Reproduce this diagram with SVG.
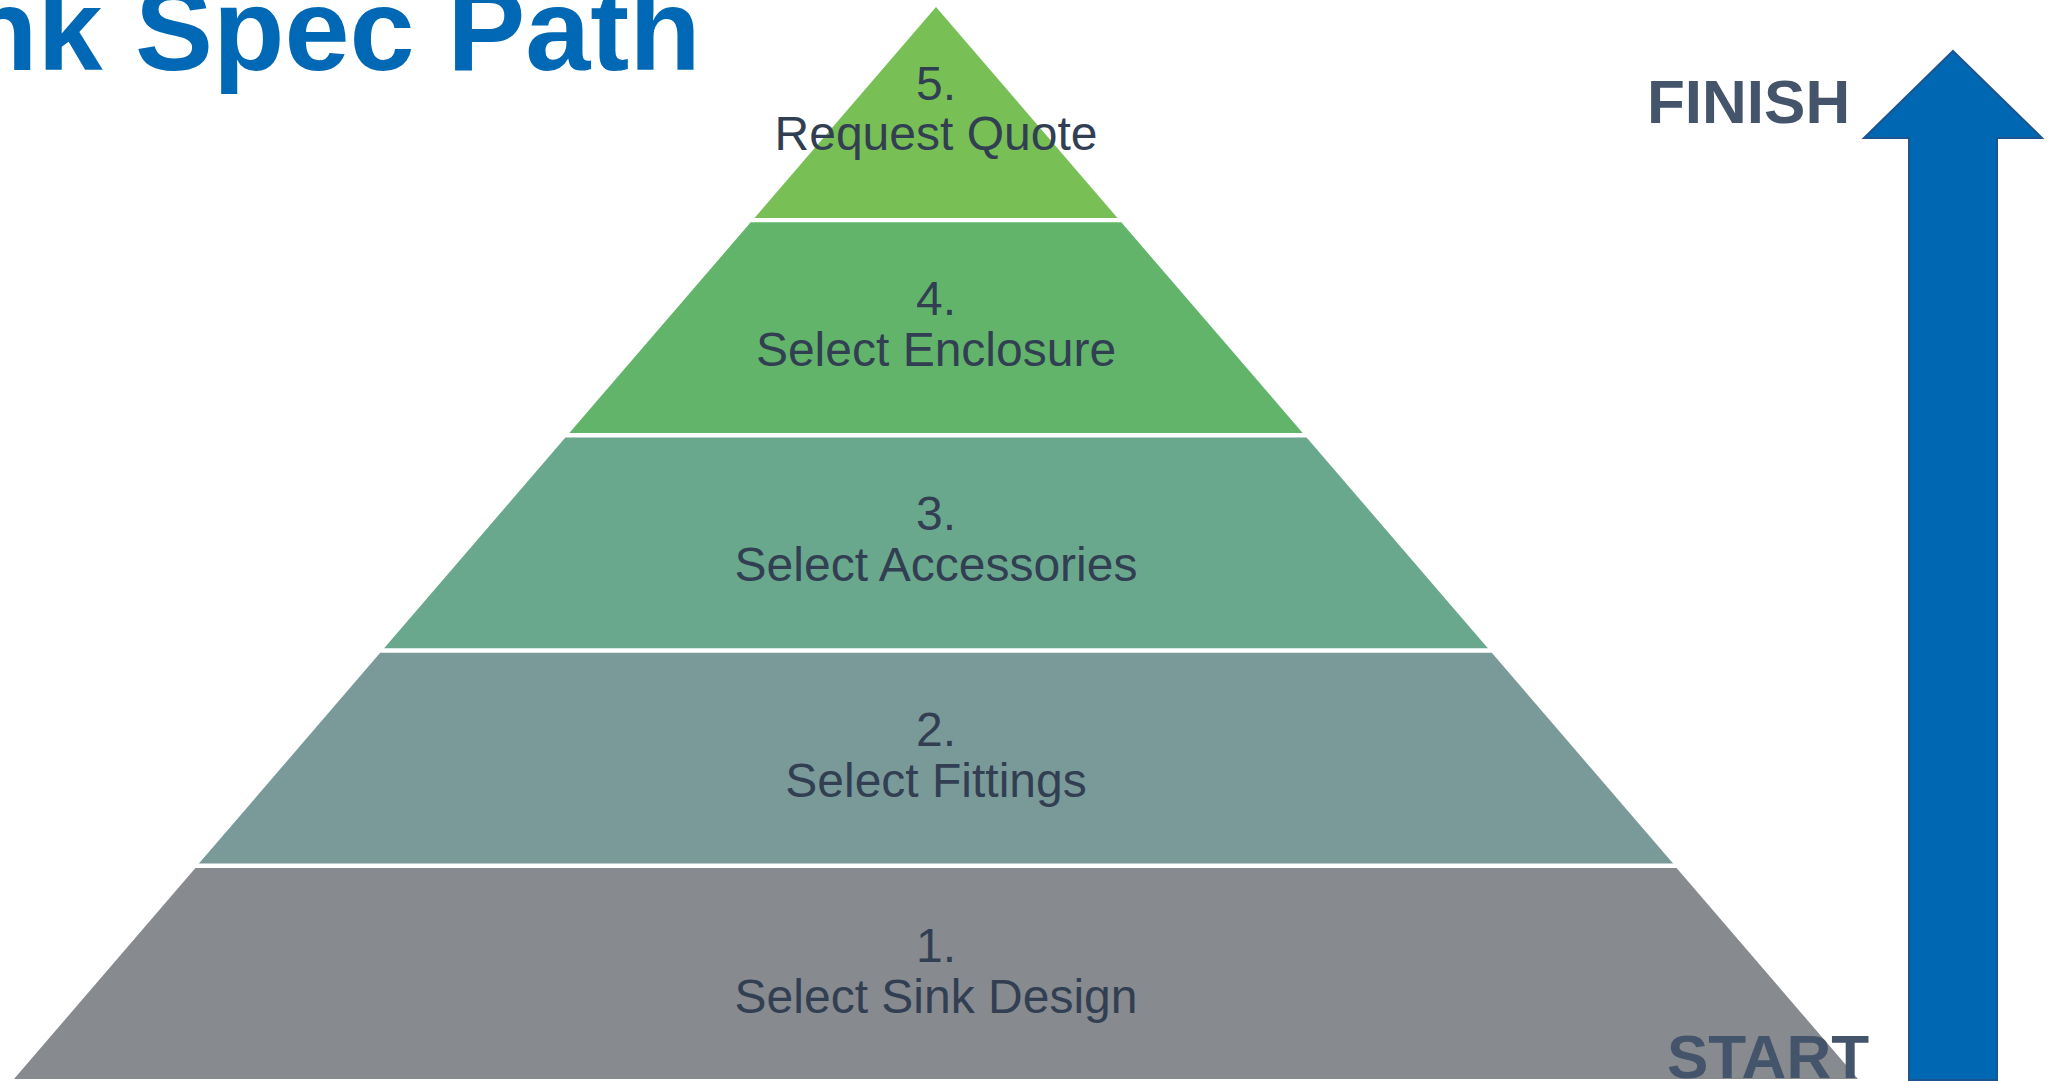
<svg xmlns="http://www.w3.org/2000/svg" width="2055" height="1081" viewBox="0 0 2055 1081">
<style>
.tier{stroke:none}
.lbl{font-family:"Liberation Sans",Arial,sans-serif;font-size:48px;fill:#323F52;text-anchor:middle}
.side{font-family:"Liberation Sans",Arial,sans-serif;font-size:62px;font-weight:bold;fill:#44546A}
.title{font-family:"Liberation Sans",Arial,sans-serif;font-size:117px;font-weight:bold;fill:#0068B4}
</style>
<rect width="2055" height="1081" fill="#FFFFFF"/>
<text class="title" x="-34" y="70">nk Spec Path</text>
<g id="tier5">
<polygon class="tier" fill="#78C055" points="936,7 1117.5,218 754.5,218"/>
<text class="lbl" x="936" y="100">5.</text>
<text class="lbl" x="936" y="150">Request Quote</text>
</g>
<g id="tier4">
<polygon class="tier" fill="#62B46B" points="750.7,222.3 1121.3,222.3 1302.7,433 569.3,433"/>
<text class="lbl" x="936" y="315">4.</text>
<text class="lbl" x="936" y="366">Select Enclosure</text>
</g>
<g id="tier3">
<polygon class="tier" fill="#6AA88E" points="565.4,437.5 1306.6,437.5 1487.9,648.3 384.1,648.3"/>
<text class="lbl" x="936" y="530">3.</text>
<text class="lbl" x="936" y="581">Select Accessories</text>
</g>
<g id="tier2">
<polygon class="tier" fill="#7A9A99" points="380.2,652.8 1491.8,652.8 1673.1,863.5 198.9,863.5"/>
<text class="lbl" x="936" y="746">2.</text>
<text class="lbl" x="936" y="797">Select Fittings</text>
</g>
<g id="tier1">
<polygon class="tier" fill="#878A8F" points="195.4,868 1676.6,868 1858,1079 14,1079"/>
<text class="lbl" x="936" y="962">1.</text>
<text class="lbl" x="936" y="1013">Select Sink Design</text>
</g>
<g id="finish">
<text class="side" x="1647" y="123">FINISH</text>
</g>
<g id="start">
<text class="side" x="1667" y="1078">START</text>
</g>
<g id="connectors">
<polygon fill="#0067B2" stroke="#1A5590" stroke-width="2" points="1953,51 2042,138 1997,138 1997,1080 1909,1080 1909,138 1864,138"/>
</g>
</svg>
